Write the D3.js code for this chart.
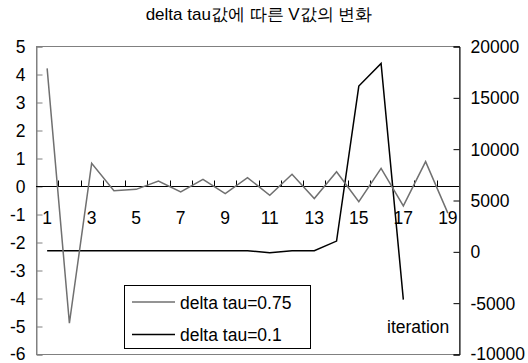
<!DOCTYPE html>
<html><head><meta charset="utf-8">
<script src="https://cdn.jsdelivr.net/npm/d3@7"></script>
<style>
html,body{margin:0;padding:0;background:#fff;}
svg{display:block;font-family:"Liberation Sans",Arial,sans-serif;}
</style></head>
<body><svg id="c" width="528" height="363"></svg>
<script>
const categories = [1,2,3,4,5,6,7,8,9,10,11,12,13,14,15,16,17,18,19];
const tau075 = [4.2,-4.9,0.81,-0.17,-0.12,0.18,-0.21,0.24,-0.27,0.30,-0.33,0.42,-0.45,0.51,-0.56,0.63,-0.71,0.87,-0.97];
const tau01 = [60,60,60,60,60,60,60,60,60,60,-130,60,60,1000,16100,18300,-4700];
const leftTicks = [-6,-5,-4,-3,-2,-1,0,1,2,3,4,5];
const rightTicks = [-10000,-5000,0,5000,10000,15000,20000];
const xLabels = [1,3,5,7,9,11,13,15,17,19];
const title = "delta tau값에 따른 V값의 변화";
const seriesNames = ["delta tau=0.75","delta tau=0.1"];
const xTitle = "iteration";

const svg = d3.select("#c");
const L = 36, R = 459, T = 46, B = 354;
const FS = "17.5px";
const x = d3.scaleBand().domain(categories).range([L, R]).padding(0);
const cx = c => x(c) + x.bandwidth()/2;
const yL = d3.scaleLinear().domain([-6,5]).range([B,T]);
const yR = d3.scaleLinear().domain([-10000,20000]).range([B,T]);
const fmt = d => String(d);

// title
svg.append("text").attr("x",259).attr("y",20).attr("text-anchor","middle")
  .style("font-size","17px").attr("fill","#000").text(title);

// plot border
svg.append("rect").attr("x",L+0.5).attr("y",T+0.5).attr("width",R-L).attr("height",B-T)
  .attr("fill","none").attr("stroke","#808080").attr("stroke-width",1);

// left axis
const gl = svg.append("g").attr("transform",`translate(${L+0.5},0.5)`)
  .call(d3.axisLeft(yL).tickValues(leftTicks).tickSize(-6).tickPadding(11).tickFormat(fmt));
gl.select(".domain").attr("stroke","#808080");
gl.selectAll(".tick line").attr("stroke","#808080");
gl.selectAll("text").style("font-size",FS).attr("font-family","Liberation Sans, Arial, sans-serif").attr("fill","#000")
  .attr("dy",d=>d===-6?"0.26em":"0.34em");

// right axis
const gr = svg.append("g").attr("transform",`translate(${R+0.5},0.5)`)
  .call(d3.axisRight(yR).tickValues(rightTicks).tickSize(-6).tickPadding(11).tickFormat(fmt));
gr.select(".domain").attr("stroke","#000");
gr.selectAll(".tick line").attr("stroke","#000");
gr.selectAll("text").style("font-size",FS).attr("font-family","Liberation Sans, Arial, sans-serif").attr("fill","#000")
  .attr("dy",d=>d===-10000?"0.26em":"0.34em");

// x axis at left-axis zero
const y0 = Math.round(yL(0)) + 0.5;
svg.append("line").attr("x1",L).attr("x2",R).attr("y1",y0).attr("y2",y0).attr("stroke","#000");
svg.append("g").selectAll("line").data(categories.slice(1)).join("line")
  .attr("x1",d=>Math.round(x(d))+0.5).attr("x2",d=>Math.round(x(d))+0.5)
  .attr("y1",y0).attr("y2",y0-6).attr("stroke","#000");

// lines
const lineL = d3.line().x((d,i)=>cx(categories[i])).y(d=>yL(d));
const lineR = d3.line().x((d,i)=>cx(categories[i])).y(d=>yR(d));
svg.append("path").datum(tau01).attr("d",lineR).attr("fill","none").attr("stroke","#000").attr("stroke-width",1.5);
svg.append("path").datum(tau075).attr("d",lineL).attr("fill","none").attr("stroke","#707070").attr("stroke-width",1.5);

// x labels
svg.append("g").selectAll("text").data(xLabels).join("text")
  .attr("x",d=>cx(d)).attr("y",223.5).attr("text-anchor","middle")
  .style("font-size",FS).attr("fill","#000").text(d=>d);

// x title
svg.append("text").attr("x",387).attr("y",333).style("font-size",FS).attr("fill","#000").text(xTitle);

// legend
const lg = svg.append("g");
lg.append("rect").attr("x",124.5).attr("y",285.5).attr("width",186).attr("height",63)
  .attr("fill","#fff").attr("stroke","#000");
const lcol = ["#707070","#000"];
seriesNames.forEach((n,i)=>{
  const yy = 302 + i*32.5;
  lg.append("line").attr("x1",132).attr("x2",175).attr("y1",yy).attr("y2",yy).attr("stroke",lcol[i]).attr("stroke-width",1.5);
  lg.append("text").attr("x",180).attr("y",yy+6.5).style("font-size",FS).attr("fill","#000").text(n);
});
</script></body></html>
